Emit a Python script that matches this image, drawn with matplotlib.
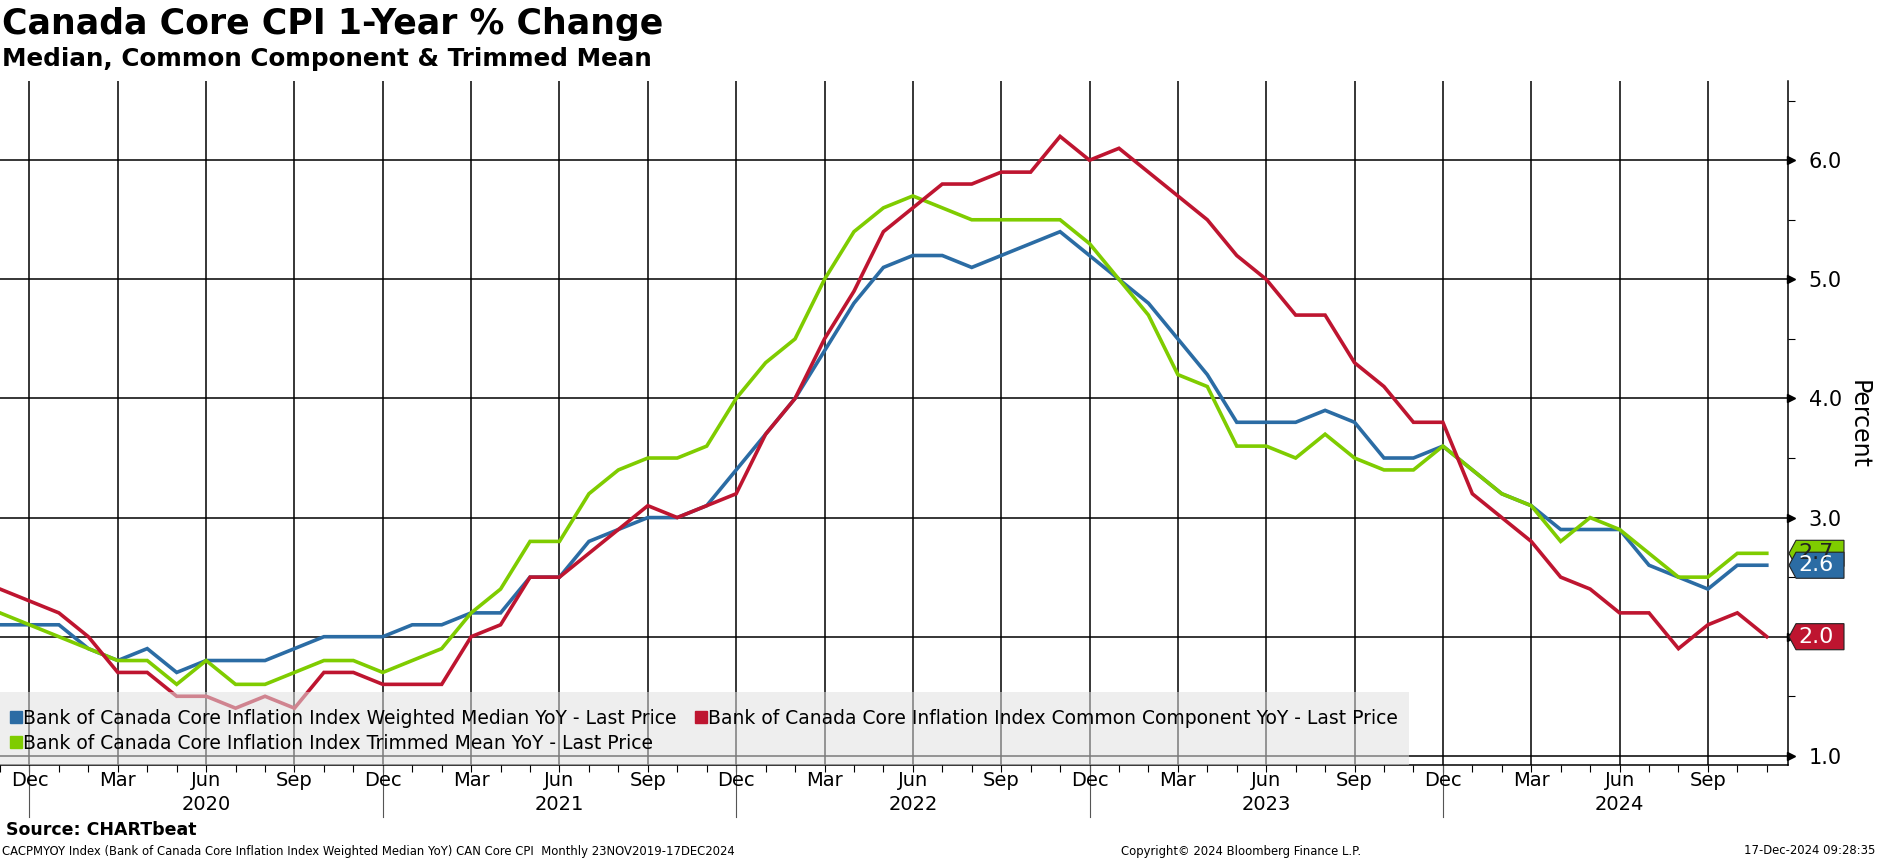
import matplotlib
matplotlib.use('Agg')
import matplotlib.pyplot as plt
import matplotlib.transforms as mtransforms
from matplotlib.patches import Rectangle, Polygon
from matplotlib.lines import Line2D
import numpy as np

plt.rcParams['font.family'] = ['DejaVu Sans']

# monthly YoY %, Nov 2019 .. Nov 2024
median = [2.1, 2.1, 2.1, 1.9, 1.8, 1.9, 1.7, 1.8, 1.8, 1.8, 1.9, 2.0, 2.0,
          2.0, 2.1, 2.1, 2.2, 2.2, 2.5, 2.5, 2.8, 2.9, 3.0, 3.0, 3.1,
          3.4, 3.7, 4.0, 4.4, 4.8, 5.1, 5.2, 5.2, 5.1, 5.2, 5.3, 5.4,
          5.2, 5.0, 4.8, 4.5, 4.2, 3.8, 3.8, 3.8, 3.9, 3.8, 3.5, 3.5,
          3.6, 3.4, 3.2, 3.1, 2.9, 2.9, 2.9, 2.6, 2.5, 2.4, 2.6, 2.6]
common = [2.4, 2.3, 2.2, 2.0, 1.7, 1.7, 1.5, 1.5, 1.4, 1.5, 1.4, 1.7, 1.7,
          1.6, 1.6, 1.6, 2.0, 2.1, 2.5, 2.5, 2.7, 2.9, 3.1, 3.0, 3.1,
          3.2, 3.7, 4.0, 4.5, 4.9, 5.4, 5.6, 5.8, 5.8, 5.9, 5.9, 6.2,
          6.0, 6.1, 5.9, 5.7, 5.5, 5.2, 5.0, 4.7, 4.7, 4.3, 4.1, 3.8,
          3.8, 3.2, 3.0, 2.8, 2.5, 2.4, 2.2, 2.2, 1.9, 2.1, 2.2, 2.0]
trim = [2.2, 2.1, 2.0, 1.9, 1.8, 1.8, 1.6, 1.8, 1.6, 1.6, 1.7, 1.8, 1.8,
        1.7, 1.8, 1.9, 2.2, 2.4, 2.8, 2.8, 3.2, 3.4, 3.5, 3.5, 3.6,
        4.0, 4.3, 4.5, 5.0, 5.4, 5.6, 5.7, 5.6, 5.5, 5.5, 5.5, 5.5,
        5.3, 5.0, 4.7, 4.2, 4.1, 3.6, 3.6, 3.5, 3.7, 3.5, 3.4, 3.4,
        3.6, 3.4, 3.2, 3.1, 2.8, 3.0, 2.9, 2.7, 2.5, 2.5, 2.7, 2.7]

month_labels = ['Dec', 'Mar', 'Jun', 'Sep'] * 5
year_labels = ['2020', '2021', '2022', '2023', '2024']
y_ticks = [1, 2, 3, 4, 5, 6]
# 2.0 sits under the red last-value tag, so its label is left blank
y_ticklabels = ['1.0', '', '3.0', '4.0', '5.0', '6.0']

names = ['Bank of Canada Core Inflation Index Weighted Median YoY - Last Price',
         'Bank of Canada Core Inflation Index Trimmed Mean YoY - Last Price',
         'Bank of Canada Core Inflation Index Common Component YoY - Last Price']

BLUE = '#2b6ca4'
RED = '#be1530'
GREEN = '#7fcc00'

x = np.arange(len(median))
quarters = np.arange(1, len(median), 3)   # Dec, Mar, Jun, Sep
year_mid = quarters[2::4]                  # Jun of each year
year_sep = quarters[0::4]                  # Dec boundaries

fig = plt.figure(figsize=(18.77, 8.59), dpi=100)
ax = fig.add_axes([0.0, 1 - 765 / 859, 1788 / 1877, 684 / 859])

ax.plot(x, median, color=BLUE, lw=2.6, zorder=3, solid_joinstyle='miter')
ax.plot(x, trim, color=GREEN, lw=2.6, zorder=4, solid_joinstyle='miter')
ax.plot(x, common, color=RED, lw=2.6, zorder=5, solid_joinstyle='miter')

ax.set_xlim(0, 60.72)
ax.set_ylim(0.923, 6.665)

ax.set_xticks(quarters)
ax.set_xticklabels([])
ax.set_xticks(x, minor=True)
ax.tick_params(axis='x', which='both', length=5, color='black', width=0.8)

ax.set_yticks(y_ticks)
ax.set_yticklabels(y_ticklabels)
ax.set_yticks([1.5, 2.5, 3.5, 4.5, 5.5, 6.5], minor=True)
ax.yaxis.tick_right()
ax.tick_params(axis='y', which='major', length=0, pad=15, labelsize=15)
ax.tick_params(axis='y', which='minor', length=5, width=0.8)

ax.grid(True, which='major', color='black', lw=1.1, zorder=1)

for side in ['top', 'left']:
    ax.spines[side].set_visible(False)
ax.spines['right'].set_linewidth(1.1)
ax.spines['bottom'].set_linewidth(1.1)

# arrow ticks on right axis
ytr = mtransforms.blended_transform_factory(ax.transAxes, ax.transData)
arr = mtransforms.offset_copy(ytr, fig=fig, x=3, y=0, units='dots')
ax.plot([1.0] * len(y_ticks), y_ticks, ls='', marker='>', ms=6,
        color='black', transform=arr, clip_on=False, zorder=6)

ax.text(1.0 + 71 / 1788, 1 - 425 / 859, 'Percent', rotation=270, fontsize=17,
        ha='center', va='center',
        transform=mtransforms.blended_transform_factory(ax.transAxes, fig.transFigure))

# month / year labels under the axis
xtr = ax.get_xaxis_transform()
H = 684.0
for q, lab in zip(quarters, month_labels):
    ax.text(q, -16 / H, lab, ha='center', va='center', fontsize=14,
            transform=xtr, clip_on=False)
for q, lab in zip(year_mid, year_labels):
    ax.text(q, -40 / H, lab, ha='center', va='center', fontsize=14,
            transform=xtr, clip_on=False)
for q in year_sep:
    ax.plot([q, q], [0, -52 / H], color='#555555', lw=0.8,
            transform=xtr, clip_on=False)

# legend box (translucent)
ax.add_patch(Rectangle((0, 0), 1409 / 1788, (765 - 692) / H,
                       transform=ax.transAxes, facecolor='#e0e0e0',
                       alpha=0.55, edgecolor='none', zorder=7))
handles = [Line2D([], [], ls='', marker='s', ms=9, color=c)
           for c in [BLUE, GREEN, RED]]
leg = ax.legend(handles, names, ncol=2, loc='upper left',
                bbox_to_anchor=(10 / 1788, (765 - 709) / H), frameon=False,
                fontsize=13.5, handlelength=0.6, handletextpad=0.1,
                columnspacing=1.0, labelspacing=0.3, borderpad=0,
                borderaxespad=0)
leg.set_zorder(8)

# last value tags
def tag(val, color, tcolor):
    h = 13 / 118.8
    pts = [(1.0 + 1 / 1788, val), (1.0 + 8 / 1788, val + h),
           (1.0 + 56 / 1788, val + h), (1.0 + 56 / 1788, val - h),
           (1.0 + 8 / 1788, val - h)]
    ax.add_patch(Polygon(pts, closed=True, transform=ytr, facecolor=color,
                         edgecolor='#222222', lw=0.8, clip_on=False, zorder=9))
    ax.text(1.0 + 10 / 1788, val, '%.1f' % val, color=tcolor, fontsize=16,
            ha='left', va='center', transform=ytr, clip_on=False, zorder=10)

tag(trim[-1], GREEN, '#222222')
tag(median[-1], BLUE, 'white')
tag(common[-1], RED, 'white')

# titles and footer
fig.text(0.001, 1 - 24 / 859, 'Canada Core CPI 1-Year % Change',
         fontsize=25, fontweight='bold', va='center')
fig.text(0.001, 1 - 59 / 859, 'Median, Common Component & Trimmed Mean',
         fontsize=17.7, fontweight='bold', va='center')
fig.text(0.003, 1 - 830 / 859, 'Source: CHARTbeat', fontsize=12.5,
         fontweight='bold', va='center')
fig.text(0.001, 1 - 851 / 859,
         'CACPMYOY Index (Bank of Canada Core Inflation Index Weighted Median YoY) CAN Core CPI  Monthly 23NOV2019-17DEC2024',
         fontsize=8.4, va='center')
fig.text(1241 / 1877, 1 - 851 / 859, 'Copyright\u00a9 2024 Bloomberg Finance L.P.',
         fontsize=8.4, va='center', ha='center')
fig.text(0.999, 1 - 851 / 859, '17-Dec-2024 09:28:35', fontsize=8.4,
         va='center', ha='right')

fig.savefig('out.png', dpi=100)
